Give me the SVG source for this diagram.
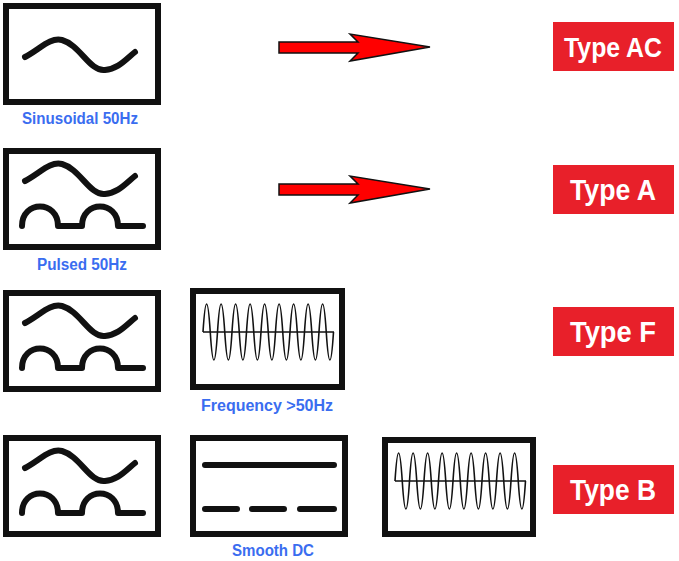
<svg xmlns="http://www.w3.org/2000/svg" width="679" height="561" viewBox="0 0 679 561">
<defs>
<style>
.box{fill:#fff;stroke:#111;stroke-width:6}
.w{fill:none;stroke:#111;stroke-width:6;stroke-linecap:round;stroke-linejoin:round}
.hf{fill:none;stroke:#111;stroke-width:1.6}
.cap{font-family:"Liberation Sans",Arial,sans-serif;font-weight:bold;font-size:16px;fill:#3a6df0;text-anchor:middle}
.tag{fill:#e8202a}
.tt{font-family:"Liberation Sans",Arial,sans-serif;font-weight:bold;font-size:30px;fill:#fff;text-anchor:middle}
.arr{fill:#f00;stroke:#111;stroke-width:1.5;stroke-linejoin:miter}
</style>
<path id="hfw" d="M0 0 q3.6 -56 7.25 0 t7.25 0 t7.25 0 t7.25 0 t7.25 0 t7.25 0 t7.25 0 t7.25 0 t7.25 0 t7.25 0 t7.25 0 t7.25 0 t7.25 0 t7.25 0 t7.25 0 t7.25 0 t7.25 0 t7.25 0 M0 0 H131"/>
<path id="sine" d="M25 0 C40 -8 50 -20 62 -17 C80 -12 90 15 105 13 C118 12 125 3 135 -5"/>
<path id="puls" d="M22 226 C22 200 58 200 58 226 H82 C82 200 118 200 118 226 H143"/>
</defs>
<g id="n1"><rect class="box" x="6" y="6" width="152" height="96"/><use href="#sine" class="w" transform="translate(0,57)"/><text class="cap" x="80" y="124" textLength="116" lengthAdjust="spacingAndGlyphs">Sinusoidal 50Hz</text></g>
<g id="n2"><rect class="box" x="6" y="151" width="152" height="96"/><use href="#sine" class="w" transform="translate(0,181)"/><use href="#puls" class="w"/><text class="cap" x="82" y="270" textLength="90" lengthAdjust="spacingAndGlyphs">Pulsed 50Hz</text></g>
<g id="n3"><rect class="box" x="6" y="293" width="152" height="96"/><use href="#sine" class="w" transform="translate(0,323)"/><use href="#puls" class="w" transform="translate(0,142)"/></g>
<g id="n4"><rect class="box" x="193" y="291" width="149" height="96"/><use href="#hfw" class="hf" transform="translate(203,332)"/><text class="cap" x="267" y="411" textLength="132" lengthAdjust="spacingAndGlyphs">Frequency &gt;50Hz</text></g>
<g id="n5"><rect class="box" x="6" y="438" width="152" height="96"/><use href="#sine" class="w" transform="translate(0,468)"/><use href="#puls" class="w" transform="translate(0,287)"/></g>
<g id="n6"><rect class="box" x="193" y="438" width="152" height="96"/><path class="w" d="M205 465 H334 M205 509 H237 M252 509 H284 M300 509 H334" stroke-linecap="butt"/><text class="cap" x="273" y="556" textLength="82" lengthAdjust="spacingAndGlyphs">Smooth DC</text></g>
<g id="n7"><rect class="box" x="385" y="440" width="148" height="94"/><use href="#hfw" class="hf" transform="translate(395,481)"/></g>
<g id="t1"><rect class="tag" x="553" y="22" width="121" height="49"/><text class="tt" x="613" y="57" style="font-size:27px" textLength="98" lengthAdjust="spacingAndGlyphs">Type AC</text></g>
<g id="t2"><rect class="tag" x="553" y="165" width="121" height="49"/><text class="tt" x="613" y="200" textLength="86" lengthAdjust="spacingAndGlyphs">Type A</text></g>
<g id="t3"><rect class="tag" x="553" y="307" width="121" height="49"/><text class="tt" x="613" y="342" textLength="86" lengthAdjust="spacingAndGlyphs">Type F</text></g>
<g id="t4"><rect class="tag" x="553" y="465" width="121" height="49"/><text class="tt" x="613" y="500" textLength="86" lengthAdjust="spacingAndGlyphs">Type B</text></g>
<g id="connectors">
<path class="arr" d="M279 42 L358 42 L350 34 L430 47 L350 61 L358 53 L279 53 Z"/>
<path class="arr" d="M279 184 L358 184 L350 176 L430 189 L350 203 L358 195 L279 195 Z"/>
</g>
</svg>
